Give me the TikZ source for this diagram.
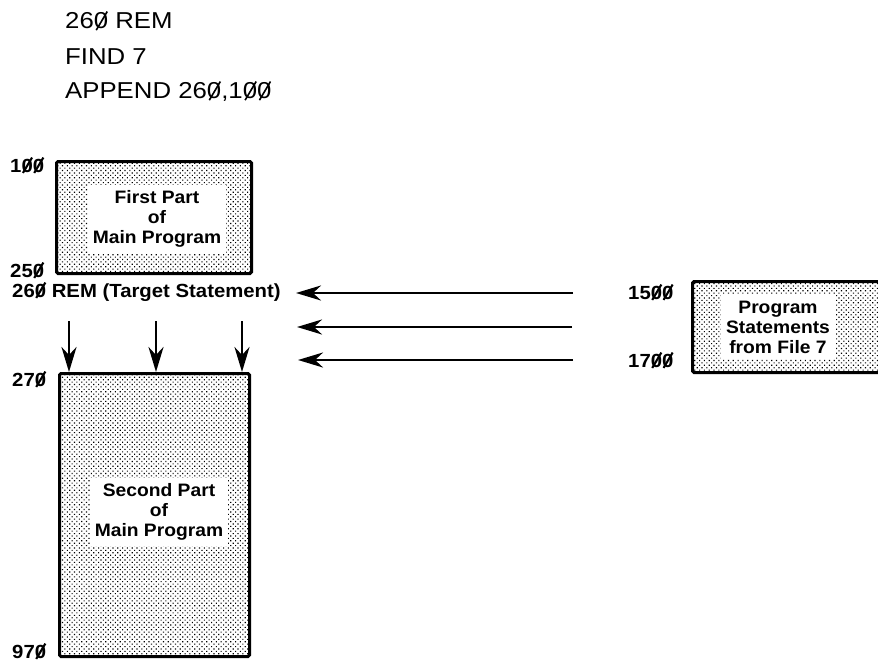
\documentclass[tikz,border=0pt]{standalone}
\usepackage{fontspec}
\setmainfont{Liberation Sans}
\newfontfamily\topfont{Liberation Sans}[FakeStretch=1.12]
\newfontfamily\labfont{Liberation Sans}[FakeStretch=1.07]
\usetikzlibrary{arrows.meta,patterns.meta}
\newcommand\zr{0\tikz[overlay]\draw[line width=0.07em] (-0.52em,-0.05em) -- (-0.04em,0.76em);}
\newcommand\zb{0\tikz[overlay]\draw[line width=0.11em] (-0.52em,-0.05em) -- (-0.04em,0.76em);}
\begin{document}
\begin{tikzpicture}[x=1pt,y=-1pt,
  membox/.style={draw, line width=3pt, rounded corners=1.5pt,
    pattern={Dots[distance=3.4pt,radius=0.8pt,angle=45]}, inner sep=0pt},
  boxtext/.style={fill=white, font=\labfont\bfseries\fontsize{18}{20}\selectfont,
    align=center, inner xsep=5pt, inner ysep=6pt},
  linelab/.style={font=\labfont\bfseries\fontsize{19}{22}\selectfont,
    inner sep=0pt, anchor=base west},
  toptext/.style={font=\topfont\fontsize{23}{27}\selectfont,
    inner sep=0pt, anchor=base west},
  flow/.style={line width=2.8pt, -{Stealth[length=25pt,width=15pt,inset=8pt]}}]
\useasboundingbox (0,0) rectangle (878,661);
\clip (0,0) rectangle (878,661);

% top text
\node[toptext] (t1) at (65,29) {26\zr\ REM};
\node[toptext] (t2) at (65,64) {FIND 7};
\node[toptext] (t3) at (65,99) {APPEND 26\zr,1\zr\zr};

% boxes
\node[membox, minimum width=195pt, minimum height=112pt] (first) at (154,217.5) {};
\node[membox, minimum width=190pt, minimum height=283pt] (second) at (154.5,515) {};
\node[membox, minimum width=212pt, minimum height=91pt] (file) at (798.5,327) {};

\node[boxtext] (firsttxt) at (157,219) {First Part\\of\\Main Program};
\node[boxtext] (secondtxt) at (159,512) {Second Part\\of\\Main Program};
\node[boxtext] (filetxt) at (778,327) {Program\\Statements\\from File 7};

% line labels
\node[linelab] (l100) at (10,172) {1\zb\zb};
\node[linelab] (l250) at (10,277) {25\zb};
\node[linelab] (l260) at (12,297) {26\zb\ REM (Target Statement)};
\node[linelab] (l270) at (12,386) {27\zb};
\node[linelab] (l970) at (12,658) {97\zb};
\node[linelab] (l1500) at (628,299) {15\zb\zb};
\node[linelab] (l1700) at (628,367) {17\zb\zb};

% left arrows
\coordinate (a1s) at (573,293); \coordinate (a1e) at (296,293);
\coordinate (a2s) at (572,327); \coordinate (a2e) at (297,327);
\coordinate (a3s) at (573,360); \coordinate (a3e) at (298,360);
\draw[flow] (a1s) -- (a1e);
\draw[flow] (a2s) -- (a2e);
\draw[flow] (a3s) -- (a3e);

% down arrows
\coordinate (d1) at (69,321);
\coordinate (d2) at (156,321);
\coordinate (d3) at (242,321);
\draw[flow] (d1) -- (d1 |- second.north);
\draw[flow] (d2) -- (d2 |- second.north);
\draw[flow] (d3) -- (d3 |- second.north);
\end{tikzpicture}
\end{document}
